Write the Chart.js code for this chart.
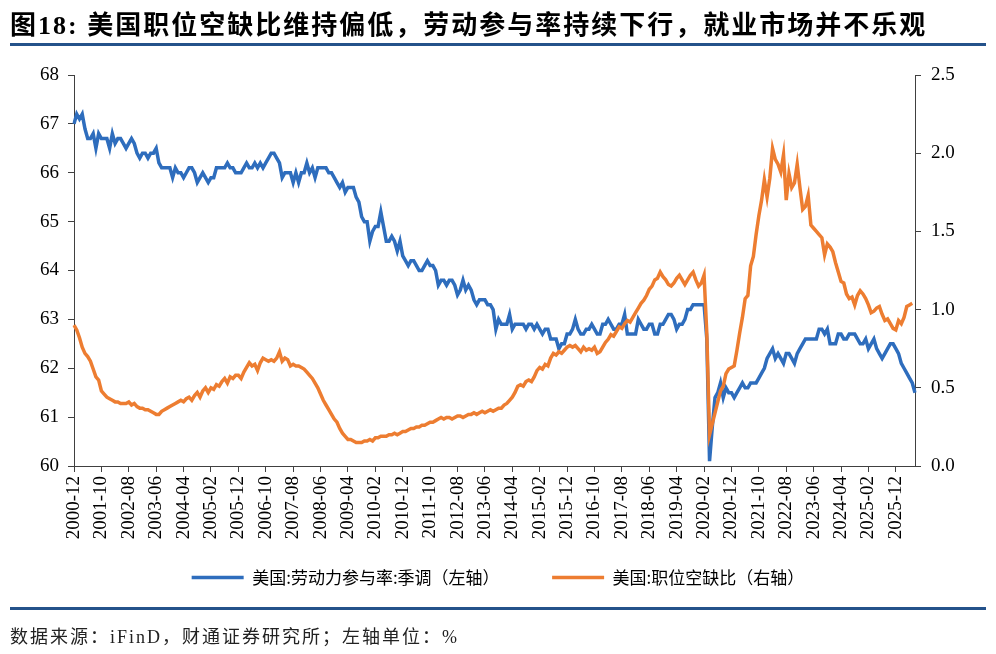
<!DOCTYPE html>
<html>
<head>
<meta charset="utf-8">
<script src="https://cdn.jsdelivr.net/npm/chart.js@4.4.1/dist/chart.umd.min.js"></script>
<style>
  html, body { margin: 0; padding: 0; background: #fff; }
  #wrap { position: relative; width: 996px; height: 654px; overflow: hidden; }
  #myChart { position: absolute; left: 0; top: 0; }
  #title {
    position: absolute; left: 10px; top: 4px;
    font: bold 26px "Liberation Serif", "Noto Sans CJK SC";
    letter-spacing: 2px; white-space: nowrap; color: #000;
  }
  .rule { position: absolute; left: 10px; width: 976px; height: 3px; background: #24528a; }
  #source {
    position: absolute; left: 10px; top: 622px;
    font: 18px "Liberation Serif", "Noto Sans CJK SC";
    letter-spacing: 2px; white-space: nowrap; color: #222;
  }
</style>
</head>
<body>
<div id="wrap">
  <canvas id="myChart" width="996" height="654"></canvas>
  <div id="title">图18: 美国职位空缺比维持偏低，劳动参与率持续下行，就业市场并不乐观</div>
  <div class="rule" style="top:43px"></div>
  <div class="rule" style="top:607px"></div>
  <div id="source">数据来源：iFinD，财通证券研究所；左轴单位：%</div>
</div>
<script>

// monthly, 2000-12 .. 2026-07
var startYear = 2000;
var startMonth = 12;

// 美国:劳动力参与率:季调 (%)
var lfpr = [
    67.0,
    67.2, 67.1, 67.2, 66.9, 66.7, 66.7, 66.8, 66.5, 66.8, 66.7, 66.7, 66.7, // 2001
    66.5, 66.8, 66.6, 66.7, 66.7, 66.6, 66.5, 66.6, 66.7, 66.6, 66.4, 66.3, // 2002
    66.4, 66.4, 66.3, 66.4, 66.4, 66.5, 66.2, 66.1, 66.1, 66.1, 66.1, 65.9, // 2003
    66.1, 66.0, 66.0, 65.9, 66.0, 66.1, 66.1, 66.0, 65.8, 65.9, 66.0, 65.9, // 2004
    65.8, 65.9, 65.9, 66.1, 66.1, 66.1, 66.1, 66.2, 66.1, 66.1, 66.0, 66.0, // 2005
    66.0, 66.1, 66.2, 66.1, 66.1, 66.2, 66.1, 66.2, 66.1, 66.2, 66.3, 66.4, // 2006
    66.4, 66.3, 66.2, 65.9, 66.0, 66.0, 66.0, 65.8, 66.0, 65.8, 66.0, 66.0, // 2007
    66.2, 66.0, 66.1, 65.9, 66.1, 66.1, 66.1, 66.1, 66.0, 66.0, 65.9, 65.8, // 2008
    65.7, 65.8, 65.6, 65.7, 65.7, 65.7, 65.5, 65.4, 65.1, 65.0, 65.0, 64.6, // 2009
    64.8, 64.9, 64.9, 65.2, 64.9, 64.6, 64.6, 64.7, 64.6, 64.4, 64.6, 64.3, // 2010
    64.2, 64.1, 64.2, 64.2, 64.1, 64.0, 64.0, 64.1, 64.2, 64.1, 64.1, 64.0, // 2011
    63.7, 63.8, 63.8, 63.7, 63.8, 63.8, 63.7, 63.5, 63.6, 63.8, 63.6, 63.7, // 2012
    63.6, 63.4, 63.3, 63.4, 63.4, 63.4, 63.3, 63.3, 63.2, 62.8, 63.0, 62.9, // 2013
    62.9, 62.9, 63.1, 62.8, 62.9, 62.9, 62.9, 62.9, 62.8, 62.9, 62.9, 62.8, // 2014
    62.9, 62.8, 62.7, 62.8, 62.8, 62.6, 62.6, 62.6, 62.4, 62.5, 62.5, 62.7, // 2015
    62.7, 62.8, 63.0, 62.8, 62.7, 62.7, 62.8, 62.8, 62.9, 62.8, 62.7, 62.7, // 2016
    62.9, 62.9, 63.0, 62.9, 62.8, 62.8, 62.9, 62.9, 63.1, 62.7, 62.7, 62.7, // 2017
    62.7, 63.0, 62.9, 62.8, 62.8, 62.9, 62.9, 62.7, 62.7, 62.9, 62.9, 63.0, // 2018
    63.1, 63.1, 63.0, 62.8, 62.9, 62.9, 63.0, 63.2, 63.2, 63.3, 63.3, 63.3, // 2019
    63.3, 63.3, 62.6, 60.1, 60.8, 61.4, 61.5, 61.7, 61.4, 61.6, 61.5, 61.5, // 2020
    61.4, 61.5, 61.6, 61.7, 61.6, 61.6, 61.7, 61.7, 61.7, 61.8, 61.9, 62.0, // 2021
    62.2, 62.3, 62.4, 62.2, 62.3, 62.2, 62.1, 62.3, 62.3, 62.2, 62.1, 62.3, // 2022
    62.4, 62.5, 62.6, 62.6, 62.6, 62.6, 62.6, 62.8, 62.8, 62.7, 62.8, 62.5, // 2023
    62.5, 62.5, 62.7, 62.7, 62.6, 62.6, 62.7, 62.7, 62.7, 62.6, 62.5, 62.5, // 2024
    62.6, 62.4, 62.5, 62.6, 62.4, 62.3, 62.2, 62.3, 62.4, 62.5, 62.5, 62.4, // 2025
    62.3, 62.1, 62.0, 61.9, 61.8, 61.7, 61.5                                // 2026
];

// 美国:职位空缺比
var vuRatio = [
    0.90,
    0.87, 0.82, 0.76, 0.72, 0.70, 0.67, 0.62, 0.57, 0.55, 0.48, 0.46, 0.44, // 2001
    0.43, 0.42, 0.41, 0.41, 0.40, 0.40, 0.40, 0.41, 0.39, 0.40, 0.38, 0.37, // 2002
    0.37, 0.36, 0.36, 0.35, 0.34, 0.33, 0.33, 0.35, 0.36, 0.37, 0.38, 0.39, // 2003
    0.40, 0.41, 0.42, 0.41, 0.43, 0.44, 0.42, 0.45, 0.47, 0.44, 0.48, 0.50, // 2004
    0.47, 0.50, 0.49, 0.52, 0.51, 0.54, 0.56, 0.53, 0.57, 0.56, 0.58, 0.58, // 2005
    0.56, 0.60, 0.63, 0.66, 0.64, 0.65, 0.61, 0.66, 0.69, 0.68, 0.67, 0.68, // 2006
    0.67, 0.69, 0.73, 0.67, 0.69, 0.68, 0.64, 0.65, 0.64, 0.64, 0.63, 0.62, // 2007
    0.60, 0.58, 0.56, 0.53, 0.50, 0.46, 0.42, 0.39, 0.36, 0.33, 0.30, 0.28, // 2008
    0.24, 0.21, 0.19, 0.17, 0.17, 0.16, 0.15, 0.15, 0.15, 0.16, 0.16, 0.17, // 2009
    0.16, 0.18, 0.18, 0.19, 0.19, 0.19, 0.20, 0.20, 0.21, 0.20, 0.21, 0.22, // 2010
    0.22, 0.23, 0.24, 0.24, 0.25, 0.25, 0.26, 0.26, 0.27, 0.28, 0.28, 0.29, // 2011
    0.30, 0.31, 0.30, 0.31, 0.31, 0.30, 0.31, 0.32, 0.32, 0.31, 0.32, 0.33, // 2012
    0.33, 0.34, 0.33, 0.34, 0.35, 0.34, 0.35, 0.36, 0.35, 0.36, 0.37, 0.37, // 2013
    0.39, 0.40, 0.42, 0.44, 0.47, 0.51, 0.52, 0.51, 0.54, 0.55, 0.54, 0.57, // 2014
    0.61, 0.63, 0.62, 0.65, 0.64, 0.69, 0.72, 0.71, 0.73, 0.72, 0.74, 0.76, // 2015
    0.77, 0.76, 0.77, 0.75, 0.73, 0.76, 0.74, 0.75, 0.74, 0.76, 0.72, 0.73, // 2016
    0.76, 0.79, 0.81, 0.84, 0.83, 0.86, 0.89, 0.88, 0.91, 0.93, 0.92, 0.95, // 2017
    0.98, 1.01, 1.04, 1.06, 1.09, 1.13, 1.15, 1.19, 1.20, 1.24, 1.21, 1.19, // 2018
    1.16, 1.15, 1.17, 1.20, 1.22, 1.19, 1.16, 1.19, 1.22, 1.24, 1.19, 1.15, // 2019
    1.17, 1.22, 0.85, 0.20, 0.27, 0.34, 0.41, 0.48, 0.51, 0.59, 0.62, 0.63, // 2020
    0.64, 0.74, 0.85, 0.95, 1.07, 1.09, 1.28, 1.34, 1.48, 1.60, 1.70, 1.83, // 2021
    1.72, 1.84, 2.03, 1.96, 1.93, 1.88, 1.99, 1.70, 1.87, 1.78, 1.81, 1.93, // 2022
    1.78, 1.64, 1.66, 1.73, 1.54, 1.52, 1.50, 1.48, 1.46, 1.35, 1.42, 1.40, // 2023
    1.37, 1.30, 1.24, 1.18, 1.17, 1.10, 1.07, 1.08, 1.03, 1.09, 1.12, 1.10, // 2024
    1.07, 1.03, 0.98, 0.99, 1.01, 1.02, 0.97, 0.93, 0.94, 0.91, 0.88, 0.87, // 2025
    0.93, 0.91, 0.95, 1.02, 1.03, 1.04, null                                // 2026
];

var labels = [];
for (var i = 0; i < lfpr.length; i++) {
    var m = startMonth - 1 + i;
    var y = startYear + Math.floor(m / 12);
    var mm = (m % 12) + 1;
    labels.push(y + '-' + (mm < 10 ? '0' + mm : mm));
}

var axisColor = '#404040';
var tickFont = { family: 'Liberation Serif', size: 19 };

var chartId = document.getElementById('myChart').getContext('2d');

var myChart = new Chart(chartId, {
    type: 'line',
    data: {
        labels: labels,
        datasets: [{
            label: '美国:职位空缺比（右轴）',
            data: vuRatio,
            yAxisID: 'y1',
            borderColor: '#ed7d31',
            backgroundColor: '#ed7d31',
            borderWidth: 3.5,
            pointRadius: 0,
            tension: 0
        }, {
            label: '美国:劳动力参与率:季调（左轴）　　　',
            data: lfpr,
            yAxisID: 'y',
            borderColor: '#2e6dbd',
            backgroundColor: '#2e6dbd',
            borderWidth: 3.5,
            pointRadius: 0,
            tension: 0
        }]
    },
    options: {
        responsive: false,
        animation: false,
        layout: { padding: { left: 0, right: 0, top: 75, bottom: 58 } },
        scales: {
            x: {
                grid: { drawOnChartArea: false, tickLength: 6, color: axisColor },
                border: { color: axisColor },
                ticks: {
                    autoSkip: false,
                    minRotation: 90,
                    maxRotation: 90,
                    padding: 4,
                    color: '#000',
                    font: tickFont,
                    callback: function (val, idx) {
                        return idx % 10 === 0 ? this.getLabelForValue(val) : null;
                    }
                },
                afterFit: function (scale) { scale.height = 93; }
            },
            y: {
                position: 'left',
                min: 60,
                max: 68,
                grid: { drawOnChartArea: false, tickLength: 6, color: axisColor },
                border: { color: axisColor },
                ticks: { stepSize: 1, padding: 9, color: '#000', font: tickFont },
                afterFit: function (scale) { scale.width = 74; }
            },
            y1: {
                position: 'right',
                min: 0,
                max: 2.5,
                grid: { drawOnChartArea: false, tickLength: 6, color: axisColor },
                border: { color: axisColor },
                ticks: {
                    stepSize: 0.5,
                    padding: 10,
                    color: '#000',
                    font: tickFont,
                    callback: function (v) { return v.toFixed(1); }
                },
                afterFit: function (scale) { scale.width = 81; }
            }
        },
        plugins: {
            title: { display: false },
            tooltip: { enabled: false },
            legend: {
                display: true,
                position: 'bottom',
                reverse: true,
                labels: {
                    usePointStyle: true,
                    pointStyle: 'line',
                    pointStyleWidth: 52,
                    padding: 10,
                    color: '#000',
                    font: { family: 'Noto Sans CJK SC', size: 17 }
                }
            }
        }
    }
});
</script>
</body>
</html>
